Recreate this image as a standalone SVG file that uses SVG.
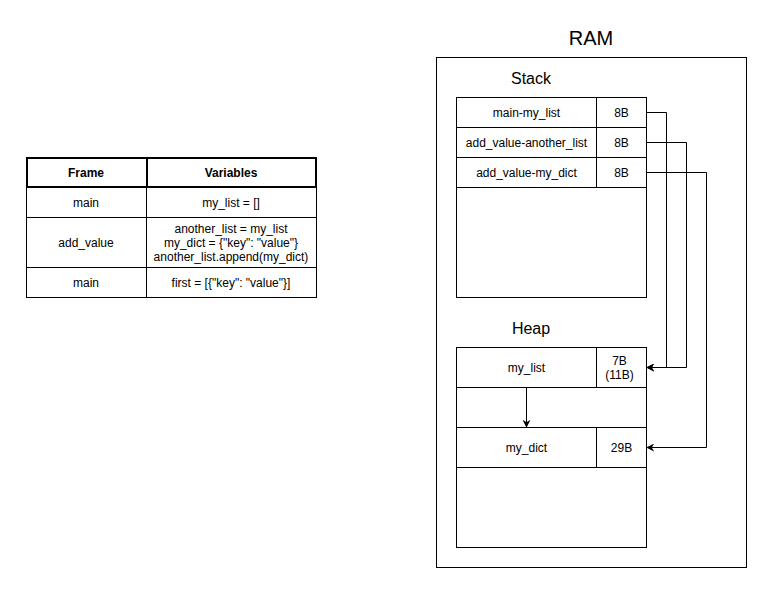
<svg xmlns="http://www.w3.org/2000/svg" width="772" height="593" viewBox="0 0 772 593">
<defs>
<style>
text{font-family:"Liberation Sans",Arial,sans-serif;fill:#000;text-anchor:middle;dominant-baseline:central}
.t{font-size:12px}
.b{font-weight:bold}
rect{fill:#fff;stroke:#000;stroke-width:1}
rect.bg{stroke:none}
.hd{stroke-width:2}
.c{fill:none;stroke:#000;stroke-width:1}
</style>
<marker id="ah" viewBox="0 0 10 10" refX="9" refY="5" markerWidth="8" markerHeight="8" orient="auto" markerUnits="userSpaceOnUse">
<path d="M0,0 L10,5 L0,10 L3,5 Z" fill="#000"/>
</marker>
</defs>
<rect class="bg" width="772" height="593"/>
<g id="table">
<rect class="hd" x="27" y="158" width="120" height="29"/>
<rect class="hd" x="147" y="158" width="169" height="29"/>
<text class="t b" x="86" y="172.5">Frame</text>
<text class="t b" x="231" y="172.5">Variables</text>
<rect x="26.5" y="187.5" width="120" height="30"/>
<rect x="146.5" y="187.5" width="170" height="30"/>
<text class="t" x="86" y="202.5">main</text>
<text class="t" x="231" y="202.5">my_list = []</text>
<rect x="26.5" y="217.5" width="120" height="50"/>
<rect x="146.5" y="217.5" width="170" height="50"/>
<text class="t" x="86" y="242.5">add_value</text>
<text class="t" x="231" y="228.5">another_list = my_list</text>
<text class="t" x="231" y="242.5">my_dict = {"key": "value"}</text>
<text class="t" x="231" y="256.5">another_list.append(my_dict)</text>
<rect x="26.5" y="267.5" width="120" height="30"/>
<rect x="146.5" y="267.5" width="170" height="30"/>
<text class="t" x="86" y="282.5">main</text>
<text class="t" x="231" y="282.5">first = [{"key": "value"}]</text>
</g>
<g id="ram">
<text x="591" y="38" style="font-size:20px">RAM</text>
<rect x="436.5" y="57.5" width="310" height="510"/>
</g>
<g id="stack">
<text x="531" y="78" style="font-size:16px">Stack</text>
<rect x="456.5" y="187.5" width="190" height="110"/>
<rect x="456.5" y="97.5" width="140" height="30"/>
<rect x="596.5" y="97.5" width="50" height="30"/>
<text class="t" x="526.5" y="112.5">main-my_list</text>
<text class="t" x="621.5" y="112.5">8B</text>
<rect x="456.5" y="127.5" width="140" height="30"/>
<rect x="596.5" y="127.5" width="50" height="30"/>
<text class="t" x="526.5" y="142.5">add_value-another_list</text>
<text class="t" x="621.5" y="142.5">8B</text>
<rect x="456.5" y="157.5" width="140" height="30"/>
<rect x="596.5" y="157.5" width="50" height="30"/>
<text class="t" x="526.5" y="172.5">add_value-my_dict</text>
<text class="t" x="621.5" y="172.5">8B</text>
</g>
<g id="heap">
<text x="531" y="328" style="font-size:16px">Heap</text>
<rect x="456.5" y="347.5" width="140" height="40"/>
<rect x="596.5" y="347.5" width="50" height="40"/>
<text class="t" x="526.5" y="367.5">my_list</text>
<text class="t" x="619.5" y="360.5">7B</text>
<text class="t" x="619.5" y="374.5">(11B)</text>
<rect x="456.5" y="387.5" width="190" height="40"/>
<rect x="456.5" y="427.5" width="140" height="40"/>
<rect x="596.5" y="427.5" width="50" height="40"/>
<text class="t" x="526.5" y="447.5">my_dict</text>
<text class="t" x="621.5" y="447.5">29B</text>
<rect x="456.5" y="467.5" width="190" height="80"/>
</g>
<g id="connectors">
<path class="c" d="M646.5,112.5 H666.5 V367.5 H647" marker-end="url(#ah)"/>
<path class="c" d="M646.5,142.5 H686.5 V367.5 H647" marker-end="url(#ah)"/>
<path class="c" d="M646.5,172.5 H706.5 V447.5 H647" marker-end="url(#ah)"/>
<path class="c" d="M526.5,387.5 V427" marker-end="url(#ah)"/>
</g>
</svg>
